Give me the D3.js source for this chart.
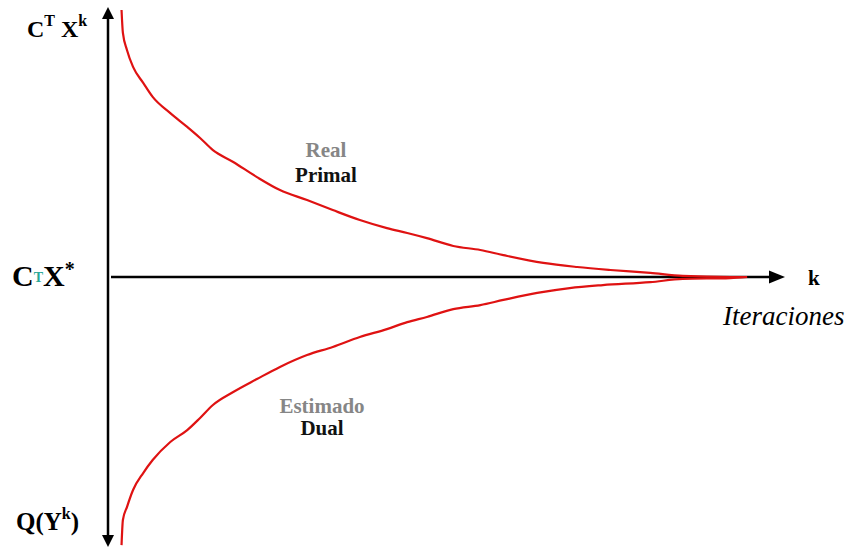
<!DOCTYPE html>
<html>
<head>
<meta charset="utf-8">
<script src="https://cdn.jsdelivr.net/npm/d3@7"></script>
<style>
  html, body { margin: 0; padding: 0; background: #fff; }
  svg { display: block; }
</style>
</head>
<body>
<svg id="chart" width="851" height="549"></svg>
<script>
// Iteration index (k) for each sampled point of the two bound curves
const primalK = [2.0, 2.2, 2.8, 3.7, 5.2, 6.6, 9.2, 11.7, 13.6, 15.5, 18.5, 22.0, 25.4, 29.4, 33.2, 37.2, 41.2, 44.2, 47.1, 51.0, 55.0, 58.4, 64.3, 69.3, 74.2, 80.1, 84.9, 91.9, 94.4];
// Primal (real) objective gap above the optimum C^T X*
const primalGap = [98.9, 90.4, 84.1, 77.8, 71.9, 66.7, 60.7, 55.6, 51.5, 47.0, 42.6, 37.0, 32.2, 28.5, 24.8, 21.1, 18.1, 16.3, 14.4, 11.5, 10.0, 8.1, 5.2, 3.7, 2.6, 1.5, 0.4, 0.0, 0.0];

const dualK = [2.0, 2.2, 2.8, 3.7, 5.2, 6.6, 9.2, 11.7, 13.6, 15.5, 18.5, 22.0, 25.4, 29.4, 33.2, 37.2, 41.2, 44.2, 47.1, 51.0, 55.0, 58.4, 63.4, 68.2, 73.1, 80.1, 84.9, 91.9, 94.4];
// Dual (estimated) bound, below the optimum
const dualGap = [-99.3, -90.0, -85.2, -78.9, -72.6, -67.8, -61.1, -56.7, -52.2, -47.4, -42.6, -37.8, -33.3, -28.9, -25.9, -22.2, -19.3, -16.7, -14.8, -11.9, -10.4, -8.5, -5.9, -4.1, -3.0, -1.9, -0.7, -0.4, 0.0];

const kDomain = [0, 100];
const gapDomain = [-100, 100];

const svg = d3.select("#chart");
const serif = '"Liberation Serif"';

const x = d3.scaleLinear().domain(kDomain).range([108, 785]);
const y = d3.scaleLinear().domain(gapDomain).range([547, 7]);

// Axes: vertical double-headed arrow, horizontal arrow toward k
const axisColor = "#000";
svg.append("line")
  .attr("x1", x(0)).attr("x2", x(0))
  .attr("y1", y(gapDomain[1]) + 8).attr("y2", y(gapDomain[0]) - 8)
  .attr("stroke", axisColor).attr("stroke-width", 2.5);

svg.append("line")
  .attr("x1", x(0) + 3).attr("x2", x(kDomain[1]) - 12)
  .attr("y1", y(0)).attr("y2", y(0))
  .attr("stroke", axisColor).attr("stroke-width", 2.5);

function arrow(tipX, tipY, dir) {
  const L = 12, H = 6;
  let pts;
  if (dir === "up") pts = [[tipX, tipY], [tipX - H, tipY + L], [tipX + H, tipY + L]];
  else if (dir === "down") pts = [[tipX, tipY], [tipX - H, tipY - L], [tipX + H, tipY - L]];
  else pts = [[tipX, tipY], [tipX - L - 4, tipY - H - 0.5], [tipX - L - 4, tipY + H + 0.5]];
  svg.append("path").attr("d", d3.line()(pts) + "Z").attr("fill", axisColor);
}
arrow(x(0), y(gapDomain[1]), "up");
arrow(x(0), y(gapDomain[0]), "down");
arrow(x(kDomain[1]), y(0), "right");

// Bound curves
const curveColor = "#df1212";
const line = d3.line()
  .x(d => x(d[0]))
  .y(d => y(d[1]))
  .curve(d3.curveMonotoneX);

svg.append("path")
  .datum(d3.zip(primalK, primalGap))
  .attr("d", line)
  .attr("fill", "none")
  .attr("stroke", curveColor)
  .attr("stroke-width", 2.2);

svg.append("path")
  .datum(d3.zip(dualK, dualGap))
  .attr("d", line)
  .attr("fill", "none")
  .attr("stroke", curveColor)
  .attr("stroke-width", 2.2);

function label(xPos, yPos, size) {
  return svg.append("text").attr("x", xPos).attr("y", yPos)
    .style("font-family", serif).style("font-size", size + "px").style("font-weight", "bold");
}

// Axis labels
const topLbl = label(27, 37, 24);
topLbl.append("tspan").text("C");
topLbl.append("tspan").attr("dy", -11).style("font-size", "16px").text("T");
topLbl.append("tspan").attr("dy", 11).text(" X");
topLbl.append("tspan").attr("dy", -11).style("font-size", "16px").text("k");

const midLbl = label(12, 286, 30);
midLbl.append("tspan").text("C");
midLbl.append("tspan").attr("dy", -4).style("font-size", "14px").attr("fill", "#2aa896").text("T");
midLbl.append("tspan").attr("dy", 4).text("X");
midLbl.append("tspan").attr("dy", -10).style("font-size", "20px").text("*");

const botLbl = label(16, 530, 25);
botLbl.append("tspan").text("Q(Y");
botLbl.append("tspan").attr("dy", -11).style("font-size", "16px").text("k");
botLbl.append("tspan").attr("dy", 11).text(")");

label(808, 285, 21).text("k");

label(723, 325, 27).style("font-weight", "normal").style("font-style", "italic").text("Iteraciones");

// Curve annotations
function note(cx, yTop, yBot, grey, dark) {
  label(cx, yTop, 21).attr("text-anchor", "middle").attr("fill", "#868686").text(grey);
  label(cx, yBot, 21).attr("text-anchor", "middle").attr("fill", "#111").text(dark);
}
note(326, 157, 182, "Real", "Primal");
note(322, 413, 435, "Estimado", "Dual");
</script>
</body>
</html>
